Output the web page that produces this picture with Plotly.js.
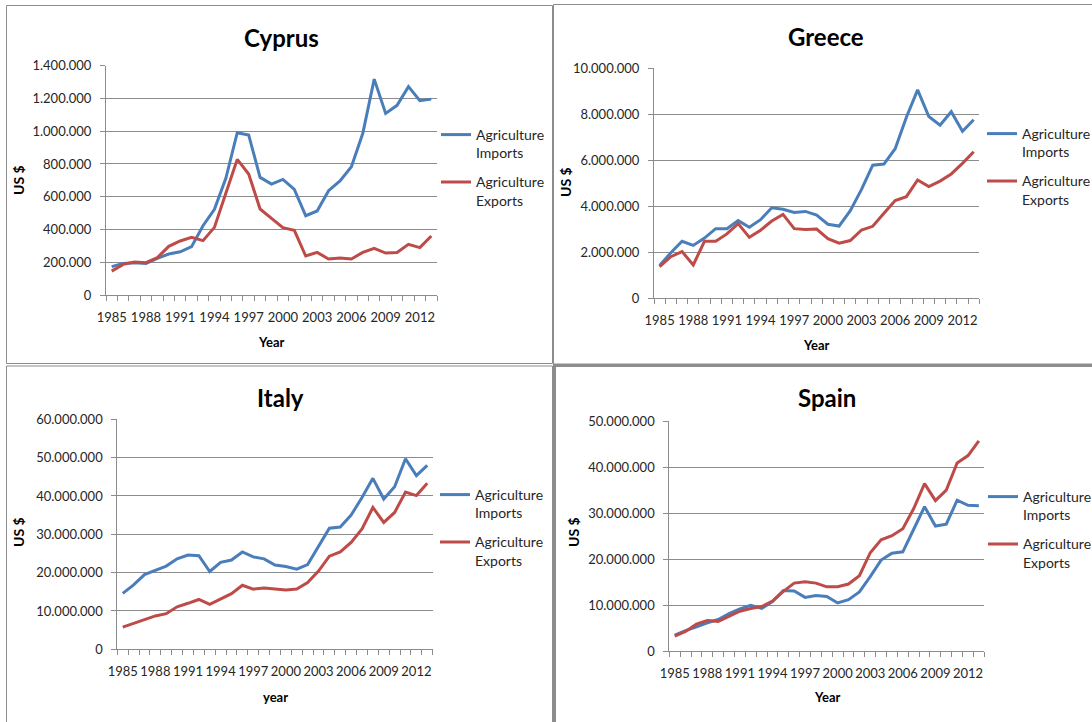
<!DOCTYPE html>
<html><head><meta charset="utf-8">
<script src="https://cdn.plot.ly/plotly-3.0.1.min.js"></script>
<style>html,body{margin:0;padding:0;background:#fff;} #chart{width:1092px;height:722px;}</style>
</head><body><div id="chart"></div>
<script>
// ---- data ----
const years = [1985,1986,1987,1988,1989,1990,1991,1992,1993,1994,1995,1996,1997,1998,1999,2000,2001,2002,2003,2004,2005,2006,2007,2008,2009,2010,2011,2012,2013];
const yearTickLabels = [1985,1988,1991,1994,1997,2000,2003,2006,2009,2012];
const seriesNames = ['Agriculture<br>Imports','Agriculture<br>Exports'];
const panelTitles = ['Cyprus','Greece','Italy','Spain'];
const xTitles = ['Year','Year','year','Year'];
const yTitle = 'US $';

const cyprusImports = [173000,193000,197000,193000,224000,250000,264000,295000,423000,523000,712000,991000,977000,718000,677000,706000,645000,484000,513000,637000,696000,783000,987000,1318000,1109000,1158000,1272000,1186000,1196000];
const cyprusExports = [146000,187000,201000,197000,228000,297000,330000,352000,332000,413000,621000,828000,739000,525000,468000,411000,395000,238000,260000,220000,226000,220000,260000,285000,256000,260000,309000,289000,360000];

const greeceImports = [1410000,1970000,2470000,2290000,2610000,3020000,3020000,3370000,3080000,3410000,3930000,3860000,3720000,3770000,3610000,3210000,3130000,3800000,4730000,5780000,5830000,6500000,7870000,9060000,7900000,7520000,8110000,7260000,7760000];
const greeceExports = [1360000,1800000,2020000,1440000,2470000,2470000,2790000,3240000,2640000,2950000,3350000,3640000,3020000,2980000,3000000,2580000,2390000,2500000,2960000,3120000,3690000,4240000,4410000,5140000,4850000,5090000,5400000,5860000,6370000];

const italyImports = [14600000,16800000,19500000,20700000,21700000,23600000,24600000,24400000,20300000,22700000,23300000,25400000,24100000,23600000,22000000,21600000,20900000,22100000,26800000,31600000,31900000,35000000,39600000,44600000,39200000,42400000,49700000,45300000,48000000];
const italyExports = [5800000,6800000,7800000,8700000,9300000,11100000,12000000,13000000,11700000,13200000,14500000,16700000,15700000,16000000,15800000,15500000,15700000,17400000,20400000,24300000,25400000,27900000,31400000,37000000,33100000,35700000,41000000,40100000,43300000];

const spainImports = [3500000,4500000,5300000,6200000,6900000,8200000,9200000,10000000,9300000,10800000,13200000,13100000,11700000,12100000,11900000,10500000,11200000,12900000,16200000,19800000,21300000,21600000,26500000,31400000,27200000,27600000,32800000,31700000,31600000];
const spainExports = [3300000,4300000,5900000,6700000,6500000,7600000,8700000,9300000,9700000,10900000,13000000,14800000,15100000,14800000,14000000,14000000,14600000,16400000,21400000,24200000,25100000,26600000,31000000,36400000,32700000,35000000,40900000,42500000,45700000];

const yMax = [1400000, 10000000, 60000000, 50000000];
const yStep = [200000, 2000000, 10000000, 10000000];

// ---- layout helpers ----
const W = 1092, H = 722;
const px = v => v / W;
const py = v => 1 - v / H;
const BLUE = '#4A7EBB', RED = '#BE4B48';
const GRID = '#8c8c8c';
const FONT = 'Lato, "Open Sans", sans-serif';
const TXT = '#262626';

// plot area boxes in pixels [left, right, top, bottom]
const boxes = [
  [106, 437, 65.7, 295],
  [654, 979.3, 68.3, 298],
  [117.3, 432.7, 419.3, 649.3],
  [669.3, 984.3, 421, 651.3]
];
const titlePos = [[281, 38], [826, 37], [280, 397], [827, 398]];
const xTitlePos = [[271, 342], [816, 345], [275, 697], [827, 697]];
const yTitlePos = [[18, 180], [565, 182], [18, 532], [573, 532]];
const legendPos = [[436, 119], [982, 118], [435, 479], [983, 481]];

const data = [
  [cyprusImports, cyprusExports],
  [greeceImports, greeceExports],
  [italyImports, italyExports],
  [spainImports, spainExports]
];

const traces = [];
const layout = {
  width: W, height: H,
  margin: {l: 0, r: 0, t: 0, b: 0, autoexpand: false},
  paper_bgcolor: '#fff', plot_bgcolor: '#fff',
  separators: ',.',
  font: {family: FONT, size: 13, color: TXT},
  showlegend: true,
  annotations: [],
  shapes: []
};

data.forEach((pair, i) => {
  const n = i + 1;
  const xa = 'x' + (n === 1 ? '' : n);
  const ya = 'y' + (n === 1 ? '' : n);
  const legId = 'legend' + (n === 1 ? '' : n);
  [BLUE, RED].forEach((c, k) => {
    traces.push({
      type: 'scatter', mode: 'lines',
      x: years, y: pair[k],
      name: seriesNames[k],
      line: {color: c, width: 3},
      xaxis: xa, yaxis: ya,
      legend: legId,
      legendgroup: 'g' + n + '_' + k,
      hoverinfo: 'skip'
    });
  });
  const b = boxes[i];
  layout['xaxis' + (n === 1 ? '' : n)] = {
    domain: [px(b[0]), px(b[1])],
    anchor: ya,
    range: [years[0] - 0.5, years[years.length - 1] + 0.5],
    tickmode: 'array', tickvals: yearTickLabels, ticktext: yearTickLabels.map(String),
    tickangle: 0,
    ticks: '', showgrid: false, zeroline: false,
    showline: true, linecolor: GRID, linewidth: 1,
    tickfont: {family: FONT, size: 13, color: TXT},
    ticklabelstandoff: 10,
    minor: {ticks: 'outside', ticklen: 5, tickcolor: GRID, tickwidth: 1,
            tickmode: 'linear', tick0: years[0] - 0.5, dtick: 1, showgrid: false},
    fixedrange: true
  };
  layout['yaxis' + (n === 1 ? '' : n)] = {
    domain: [py(b[3]), py(b[2])],
    anchor: xa,
    range: [0, yMax[i]], tick0: 0, dtick: yStep[i],
    tickformat: ',d',
    ticks: 'outside', ticklen: 5, tickcolor: GRID, tickwidth: 1,
    showline: true, linecolor: GRID, linewidth: 1,
    showgrid: true, gridcolor: GRID, gridwidth: 1,
    zeroline: false,
    tickfont: {family: FONT, size: 13, color: TXT},
    ticklabelstandoff: 6,
    fixedrange: true
  };
  layout[legId] = {
    x: px(legendPos[i][0]), y: py(legendPos[i][1]),
    xref: 'paper', yref: 'paper',
    xanchor: 'left', yanchor: 'top', valign: 'top',
    itemwidth: 30, tracegroupgap: 8,
    bgcolor: 'rgba(0,0,0,0)', borderwidth: 0,
    font: {family: FONT, size: 14, color: TXT}
  };
  layout.annotations.push({
    text: '<b>' + panelTitles[i] + '</b>', showarrow: false,
    xref: 'paper', yref: 'paper', x: px(titlePos[i][0]), y: py(titlePos[i][1]),
    xanchor: 'center', yanchor: 'middle',
    font: {family: FONT, size: 24, color: '#000'}
  });
  layout.annotations.push({
    text: '<b>' + xTitles[i] + '</b>', showarrow: false,
    xref: 'paper', yref: 'paper', x: px(xTitlePos[i][0]), y: py(xTitlePos[i][1]),
    xanchor: 'center', yanchor: 'middle',
    font: {family: FONT, size: 13, color: '#000'}
  });
  layout.annotations.push({
    text: '<b>' + yTitle + '</b>', showarrow: false, textangle: -90,
    xref: 'paper', yref: 'paper', x: px(yTitlePos[i][0]), y: py(yTitlePos[i][1]),
    xanchor: 'center', yanchor: 'middle',
    font: {family: FONT, size: 14, color: '#000'}
  });
});

// panel borders
const borders = [
  [6.5, 5.5, 552.5, 363.5, 1],
  [553.5, 4.5, 1100, 364, 1],
  [6.5, 366, 552.5, 730, 1],
  [554.5, 365.5, 1100, 730, 3]
];
borders.forEach(r => {
  layout.shapes.push({
    type: 'rect', xref: 'paper', yref: 'paper',
    x0: px(r[0]), x1: px(r[2]), y0: py(r[1]), y1: py(r[3]),
    line: {color: GRID, width: r[4]}, fillcolor: 'rgba(0,0,0,0)', layer: 'above'
  });
});

Plotly.newPlot('chart', traces, layout, {staticPlot: true, displayModeBar: false});
</script>
</body></html>
